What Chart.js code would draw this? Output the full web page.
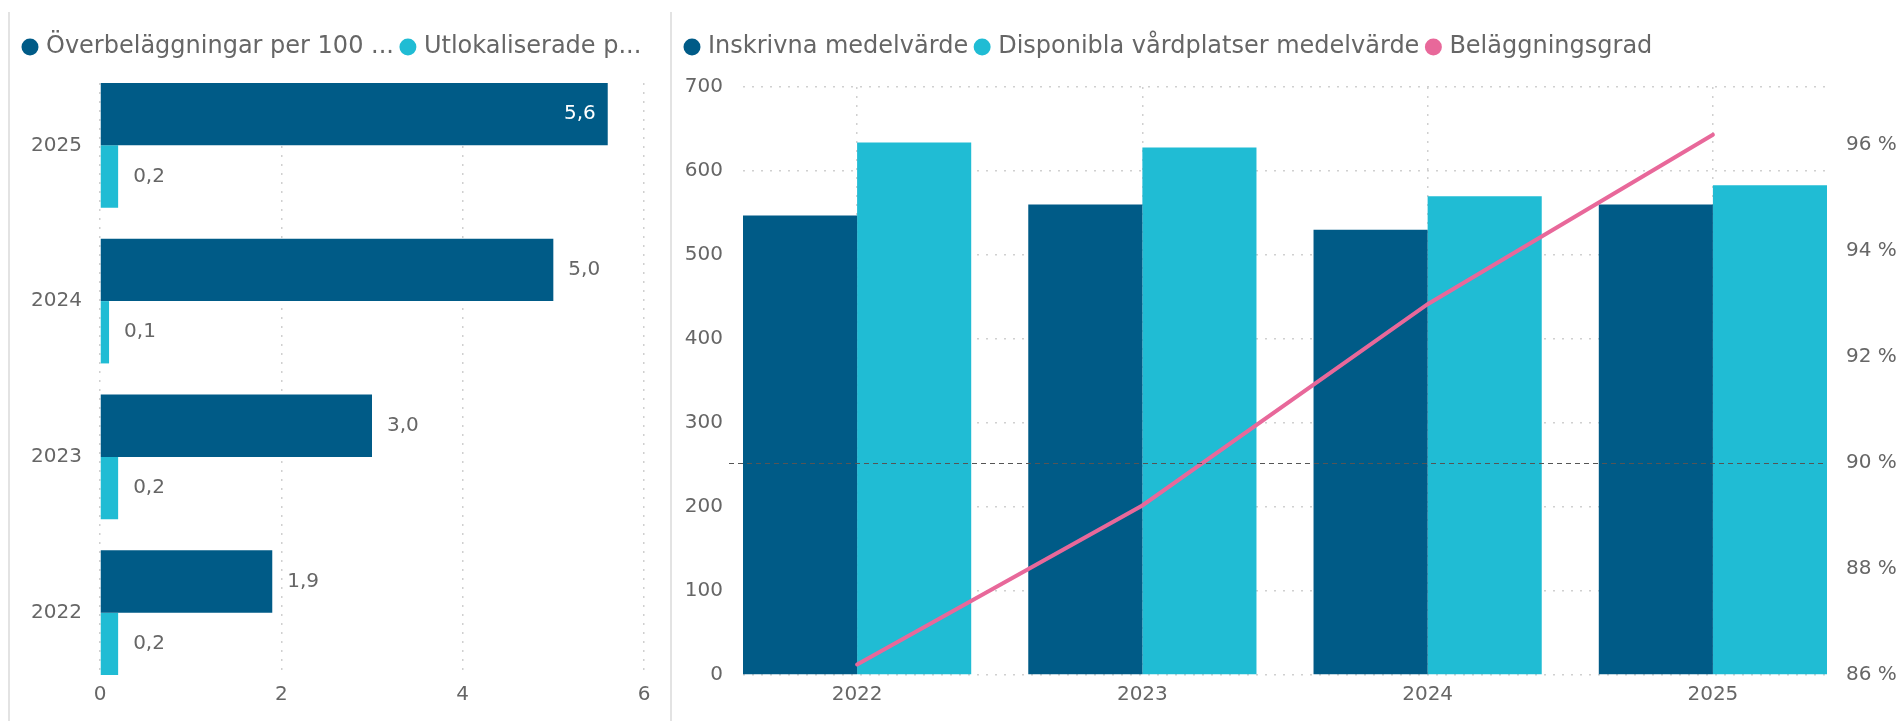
<!DOCTYPE html>
<html lang="sv">
<head>
<meta charset="utf-8">
<title>Överbeläggningar och beläggningsgrad</title>
<script src="https://cdn.jsdelivr.net/npm/chart.js@4.4.1/dist/chart.umd.min.js"></script>
<style>
    html, body { margin: 0; padding: 0; background: #ffffff; }
    body { position: relative; width: 1903px; height: 721px; overflow: hidden; }
    .frame { position: absolute; top: 12px; bottom: 0; width: 2px; background: #e3e3e3; }
    .panel { position: absolute; top: 0; height: 721px; }
</style>
</head>
<body>
<div class="frame" style="left: 8px;"></div>
<div class="frame" style="left: 670px;"></div>
<div class="panel" style="left: 11px; width: 659px;"><canvas id="leftChart"></canvas></div>
<div class="panel" style="left: 673px; width: 1230px;"><canvas id="rightChart"></canvas></div>
<script>
const years = ['2022', '2023', '2024', '2025'];

// left chart: per 100 vardplatser
const overbelaggningar = [1.9, 3.0, 5.0, 5.6];
const utlokaliserade = [0.2, 0.2, 0.1, 0.2];
const leftTicks = [0, 2, 4, 6];

// right chart
const inskrivna = [547, 560, 530, 560];
const disponibla = [634, 628, 570, 583];
const belaggningsgrad = [86.2, 89.2, 93.0, 96.2];
const belaggningsMal = 90;
const countTicks = [0, 100, 200, 300, 400, 500, 600, 700];
const pctTicks = [86, 88, 90, 92, 94, 96];

const DARK = '#005B87';
const LIGHT = '#20BCD4';
const PINK = '#E8689A';
const TEXT = '#666666';
const GRID = '#d0d0d0';

Chart.defaults.font.family = '"DejaVu Sans", Verdana, sans-serif';
Chart.defaults.font.size = 20;
Chart.defaults.color = TEXT;
Chart.defaults.animation = false;

const fmt = v => v.toFixed(1).replace('.', ',');

// push the plot area down a bit below the legend
function legendGap(extra) {
    return {
        id: 'legendGap',
        beforeInit(chart) {
            const fit = chart.legend.fit;
            chart.legend.fit = function () {
                fit.bind(chart.legend)();
                this.height += extra;
            };
        }
    };
}

const barLabels = {
    id: 'barLabels',
    afterDatasetsDraw(chart) {
        const ctx = chart.ctx;
        ctx.save();
        ctx.font = '20px "DejaVu Sans", Verdana, sans-serif';
        ctx.textBaseline = 'middle';
        chart.data.datasets.forEach((ds, di) => {
            chart.getDatasetMeta(di).data.forEach((bar, i) => {
                const text = fmt(ds.data[i].x);
                const w = ctx.measureText(text).width;
                if (bar.x + 15 + w > chart.chartArea.right) {
                    ctx.fillStyle = '#ffffff';
                    ctx.textAlign = 'right';
                    ctx.fillText(text, bar.x - 12, bar.y);
                } else {
                    ctx.fillStyle = TEXT;
                    ctx.textAlign = 'left';
                    ctx.fillText(text, bar.x + 15, bar.y);
                }
            });
        });
        ctx.restore();
    }
};

const targetLine = {
    id: 'targetLine',
    afterDatasetsDraw(chart) {
        const {ctx, chartArea} = chart;
        const y = Math.round(chart.scales.y1.getPixelForValue(belaggningsMal)) + 0.5;
        ctx.save();
        ctx.strokeStyle = '#555555';
        ctx.lineWidth = 1;
        ctx.setLineDash([5, 4]);
        ctx.beginPath();
        ctx.moveTo(chartArea.left - 14, y);
        ctx.lineTo(chartArea.right, y);
        ctx.stroke();
        ctx.restore();
    }
};

const legendLabels = {
    usePointStyle: true,
    pointStyle: 'circle',
    boxWidth: 8,
    boxHeight: 12,
    padding: 10,
    color: TEXT,
    font: { size: 24 },
    sort: (a, b) => a.datasetIndex - b.datasetIndex,
    // plain filled dots, also for the line series
    generateLabels: chart => Chart.defaults.plugins.legend.labels.generateLabels(chart)
        .map(item => ({ ...item, lineWidth: 0 }))
};

new Chart(document.getElementById('leftChart'), {
    type: 'bar',
    data: {
        datasets: [
            {
                label: 'Överbeläggningar per 100 ...',
                data: overbelaggningar.map((v, i) => ({ x: v, y: i })),
                backgroundColor: DARK
            },
            {
                label: 'Utlokaliserade p...',
                data: utlokaliserade.map((v, i) => ({ x: v, y: i })),
                backgroundColor: LIGHT
            }
        ]
    },
    options: {
        indexAxis: 'y',
        responsive: true,
        maintainAspectRatio: false,
        layout: { padding: { left: 5, right: 0, top: 25, bottom: 14 } },
        datasets: { bar: { categoryPercentage: 0.8, barPercentage: 1 } },
        plugins: {
            legend: { position: 'top', align: 'start', labels: legendLabels },
            tooltip: { enabled: false }
        },
        scales: {
            x: {
                type: 'linear',
                min: 0,
                max: 6,
                afterBuildTicks: s => { s.ticks = leftTicks.map(v => ({ value: v })); },
                afterFit: s => { s.height = 32; },
                ticks: { padding: 8, color: TEXT },
                grid: { color: GRID, lineWidth: 1.5, drawTicks: false },
                border: { display: false, dash: [2, 7] }
            },
            y: {
                type: 'linear',
                offset: false,
                min: -0.4,
                max: 3.4,
                afterBuildTicks: s => { s.ticks = years.map((_, i) => ({ value: i })); },
                afterFit: s => { s.width = 84; },
                ticks: { padding: 18, color: TEXT, callback: v => years[v] },
                grid: { display: false, drawTicks: false, offset: false },
                border: { display: false }
            },
            // empty right margin so the legend keeps the full panel width
            spacer: {
                type: 'linear',
                axis: 'y',
                position: 'right',
                afterFit: s => { s.width = 26; },
                ticks: { display: false },
                grid: { display: false, drawTicks: false },
                border: { display: false }
            }
        }
    },
    plugins: [legendGap(14), barLabels]
});

new Chart(document.getElementById('rightChart'), {
    type: 'bar',
    data: {
        datasets: [
            {
                label: 'Inskrivna medelvärde',
                data: inskrivna.map((v, i) => ({ x: i, y: v })),
                backgroundColor: DARK,
                yAxisID: 'y',
                order: 1
            },
            {
                label: 'Disponibla vårdplatser medelvärde',
                data: disponibla.map((v, i) => ({ x: i, y: v })),
                backgroundColor: LIGHT,
                yAxisID: 'y',
                order: 1
            },
            {
                type: 'line',
                label: 'Beläggningsgrad',
                data: belaggningsgrad.map((v, i) => ({ x: i, y: v })),
                borderColor: PINK,
                backgroundColor: PINK,
                borderWidth: 4,
                borderCapStyle: 'round',
                pointRadius: 0,
                tension: 0,
                yAxisID: 'y1',
                order: 0
            }
        ]
    },
    options: {
        responsive: true,
        maintainAspectRatio: false,
        layout: { padding: { left: 5, right: 0, top: 25, bottom: 14 } },
        datasets: { bar: { categoryPercentage: 0.8, barPercentage: 1 } },
        plugins: {
            legend: { position: 'top', align: 'start', labels: legendLabels },
            tooltip: { enabled: false }
        },
        scales: {
            x: {
                type: 'linear',
                offset: false,
                min: -0.4,
                max: 3.4,
                afterBuildTicks: s => { s.ticks = years.map((_, i) => ({ value: i })); },
                afterFit: s => { s.height = 32; },
                ticks: { padding: 8, color: TEXT, callback: v => years[v] },
                grid: { color: GRID, lineWidth: 1.5, drawTicks: false, offset: false },
                border: { display: false, dash: [2, 7] }
            },
            y: {
                type: 'linear',
                position: 'left',
                min: 0,
                max: 700,
                afterBuildTicks: s => { s.ticks = countTicks.map(v => ({ value: v })); },
                afterFit: s => { s.width = 65; },
                ticks: { padding: 20, color: TEXT },
                grid: { color: GRID, lineWidth: 1.5, drawTicks: false },
                border: { display: false, dash: [2, 7] }
            },
            y1: {
                type: 'linear',
                position: 'right',
                min: 86,
                max: 97.1,
                afterBuildTicks: s => { s.ticks = pctTicks.map(v => ({ value: v })); },
                afterFit: s => { s.width = 76; },
                ticks: { padding: 19, color: TEXT, callback: v => v + ' %' },
                grid: { display: false, drawTicks: false },
                border: { display: false }
            }
        }
    },
    plugins: [legendGap(18), targetLine]
});
</script>
</body>
</html>
